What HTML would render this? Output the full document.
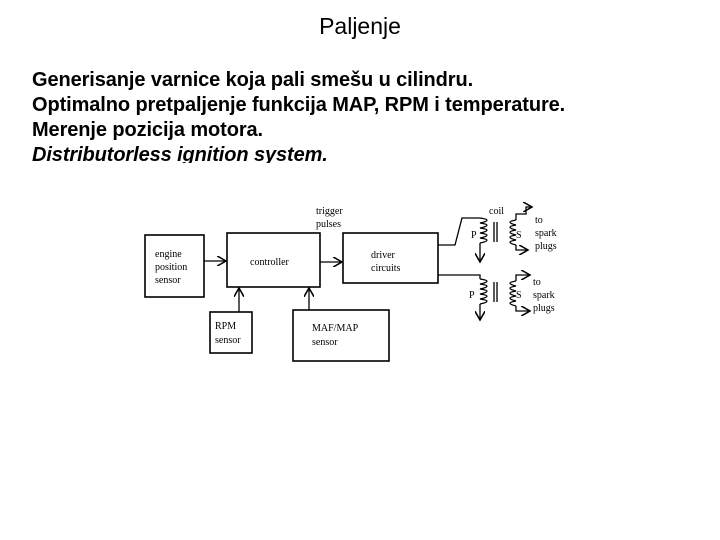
<!DOCTYPE html>
<html><head><meta charset="utf-8"><style>
body{margin:0;width:720px;height:540px;background:#fff;position:relative;overflow:hidden;font-family:"Liberation Sans",sans-serif}
.t{position:absolute;left:0;width:720px;top:13px;text-align:center;font-size:23px}
.b{position:absolute;left:32px;font-size:20px;font-weight:bold;white-space:nowrap;line-height:24px;letter-spacing:-0.1px}
</style></head><body>
<div class="t">Paljenje</div>
<div class="b" style="top:68px">Generisanje varnice koja pali smešu u cilindru.</div>
<div class="b" style="top:93px">Optimalno pretpaljenje funkcija MAP, RPM i temperature.</div>
<div class="b" style="top:118px">Merenje pozicija motora.</div>
<div class="b" style="top:143px;height:20px;overflow:hidden;font-style:italic">Distributorless ignition system.</div>
<svg style="position:absolute;left:0;top:0" width="720" height="540" font-family="Liberation Serif,serif" font-size="10">
<defs><marker id="a" markerWidth="8" markerHeight="8" refX="7" refY="4" orient="auto"><path d="M0,0 L7,4 L0,8" fill="none" stroke="#000" stroke-width="1.2"/></marker></defs>
<g fill="none" stroke="#000" stroke-width="1.6">
<rect x="145" y="235" width="59" height="62"/>
<rect x="227" y="233" width="93" height="54"/>
<rect x="343" y="233" width="95" height="50"/>
<rect x="210" y="312" width="42" height="41"/>
<rect x="293" y="310" width="96" height="51"/>
</g>
<g stroke="#000" stroke-width="1.3" fill="none">
<line x1="204" y1="261" x2="226" y2="261" marker-end="url(#a)"/>
<line x1="320" y1="262" x2="342" y2="262" marker-end="url(#a)"/>
<line x1="239" y1="312" x2="239" y2="288" marker-end="url(#a)"/>
<line x1="309" y1="310" x2="309" y2="288" marker-end="url(#a)"/>
<path d="M438,245 L455,245 L462,218 L480,218"/>
<path d="M480,218 q14,2 0,5 q14,2 0,5 q14,2 0,5 q14,2 0,5 q14,2 0,5"/>
<line x1="480" y1="243" x2="480" y2="262" marker-end="url(#a)"/>
<line x1="494" y1="222" x2="494" y2="242"/><line x1="497" y1="222" x2="497" y2="242"/>
<path d="M516,220 q-12,2 0,5 q-12,2 0,5 q-12,2 0,5 q-12,2 0,5 q-12,2 0,5"/>
<path d="M516,220 L516,214 L526,214 L526,207 L532,207" marker-end="url(#a)"/>
<path d="M516,245 L516,250 L528,250" marker-end="url(#a)"/>
<path d="M438,275 L480,275 L480,279"/>
<path d="M480,279 q14,2 0,5 q14,2 0,5 q14,2 0,5 q14,2 0,5 q14,2 0,5"/>
<line x1="480" y1="304" x2="480" y2="320" marker-end="url(#a)"/>
<line x1="494" y1="282" x2="494" y2="302"/><line x1="497" y1="282" x2="497" y2="302"/>
<path d="M516,281 q-12,2 0,5 q-12,2 0,5 q-12,2 0,5 q-12,2 0,5 q-12,2 0,5"/>
<path d="M516,281 L516,275 L530,275" marker-end="url(#a)"/>
<path d="M516,306 L516,311 L530,311" marker-end="url(#a)"/>
</g>
<g fill="#000">
<text x="155" y="257">engine</text><text x="155" y="270">position</text><text x="155" y="283">sensor</text>
<text x="250" y="265">controller</text>
<text x="371" y="258">driver</text><text x="371" y="271">circuits</text>
<text x="215" y="329">RPM</text><text x="215" y="343">sensor</text>
<text x="312" y="331">MAF/MAP</text><text x="312" y="345">sensor</text>
<text x="316" y="214">trigger</text><text x="316" y="227">pulses</text>
<text x="489" y="214">coil</text>
<text x="471" y="238">P</text><text x="516" y="238">S</text>
<text x="469" y="298">P</text><text x="516" y="298">S</text>
<text x="535" y="223">to</text><text x="535" y="236">spark</text><text x="535" y="249">plugs</text>
<text x="533" y="285">to</text><text x="533" y="298">spark</text><text x="533" y="311">plugs</text>
</g>
</svg>
</body></html>
